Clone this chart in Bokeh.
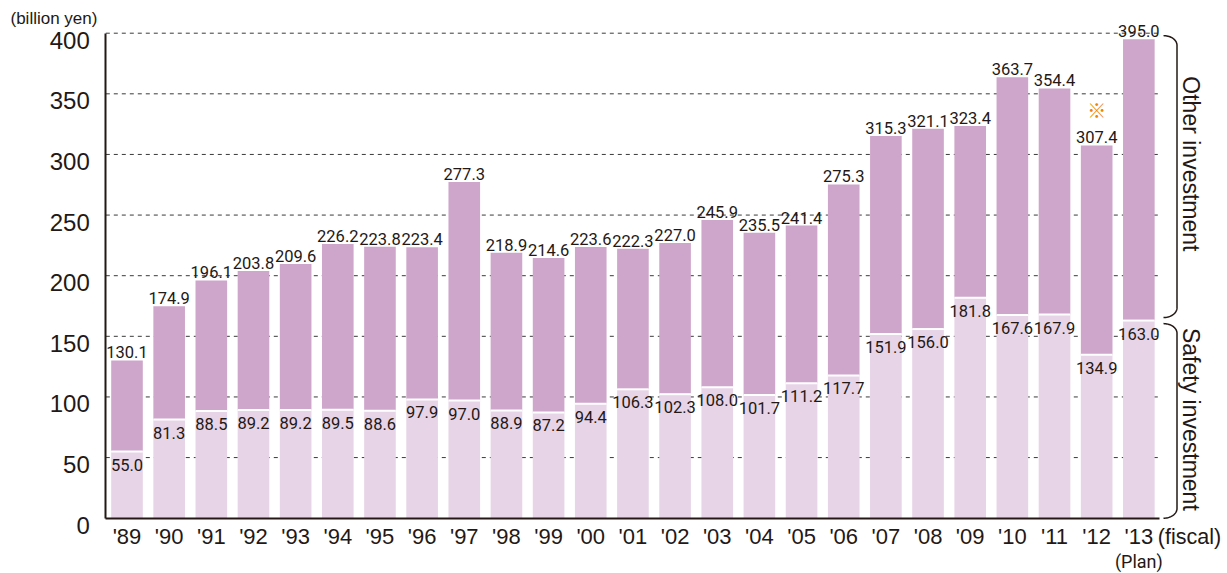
import numpy as np
from bokeh.plotting import figure
from bokeh.models import Range1d, FixedTicker, ColumnDataSource, LinearAxis
from bokeh.core.properties import value
from bokeh.embed import file_html
from bokeh.resources import INLINE

# ---- data ----
years = ["'89", "'90", "'91", "'92", "'93", "'94", "'95", "'96", "'97", "'98", "'99", "'00",
         "'01", "'02", "'03", "'04", "'05", "'06", "'07", "'08", "'09", "'10", "'11", "'12", "'13"]
totals = [130.1, 174.9, 196.1, 203.8, 209.6, 226.2, 223.8, 223.4, 277.3, 218.9, 214.6, 223.6,
          222.3, 227.0, 245.9, 235.5, 241.4, 275.3, 315.3, 321.1, 323.4, 363.7, 354.4, 307.4, 395.0]
safety = [55.0, 81.3, 88.5, 89.2, 89.2, 89.5, 88.6, 97.9, 97.0, 88.9, 87.2, 94.4,
          106.3, 102.3, 108.0, 101.7, 111.2, 117.7, 151.9, 156.0, 181.8, 167.6, 167.9, 134.9, 163.0]
y_ticks = [0, 50, 100, 150, 200, 250, 300, 350, 400]
marked_year = "'12"
plan_year = "'13"

# ---- styling / layout ----
DARK = "#CFA6CB"
LIGHT = "#E7D4E7"
INK = "#231815"
TICK_FONT = "Liberation Sans"
NUM_FONT = "Roboto"

W, H = 1227, 573
PX_X = 42.16      # pixels per category step
X0_PX = 126.5     # pixel position of first category
PX_Y = 1.2125     # pixels per unit
Y0_PX = 517.7     # pixel position of value 0
LABEL_DROP_PX = 7 # y tick labels sit slightly below their gridlines

def dx(px):
    return (px - X0_PX) / PX_X

def dy(py):
    return (Y0_PX - py) / PX_Y

n = len(years)
xs = np.arange(n)
tot = np.array(totals)
saf = np.array(safety)
bw = 0.75

axis_left = dx(105.3)
axis_right = dx(1159)

p = figure(width=W, height=H, output_backend="svg", toolbar_location=None,
           x_range=Range1d(dx(0), dx(W)), y_range=Range1d(dy(H), dy(0)),
           min_border=0, min_border_left=0, min_border_right=0,
           min_border_top=0, min_border_bottom=0)
p.outline_line_color = None
p.grid.visible = False
p.background_fill_color = "white"
p.border_fill_color = "white"
shift = LABEL_DROP_PX / PX_Y
p.extra_y_ranges = {"lbl": Range1d(dy(H) + shift, dy(0) + shift)}

# dashed gridlines (from tick values), behind bars
gy = [t for t in y_ticks if t > 0]
p.segment(x0=[axis_left] * len(gy), x1=[axis_right] * len(gy), y0=gy, y1=gy,
          line_color="#3a3a3a", line_width=1, line_dash="4 4")

src = ColumnDataSource(dict(x=xs, tot=tot, saf=saf,
                            tl=[f"{v:.1f}" for v in totals], sl=[f"{v:.1f}" for v in safety],
                            x0=xs - bw / 2, x1=xs + bw / 2))

p.vbar(x="x", width=bw, bottom=0, top="saf", source=src, fill_color=LIGHT, line_color=None)
p.vbar(x="x", width=bw, bottom="saf", top="tot", source=src, fill_color=DARK, line_color=None)
p.segment(x0="x0", x1="x1", y0="saf", y1="saf", source=src, line_color="white", line_width=2)

# value labels
p.text(x="x", y="tot", text="tl", source=src, text_align="center", text_baseline="bottom",
       y_offset=-2, text_font=value(NUM_FONT), text_font_size="16.5px", text_color=INK)
p.text(x="x", y="saf", text="sl", source=src, text_align="center", text_baseline="top",
       y_offset=7, text_font=value(NUM_FONT), text_font_size="16.5px", text_color=INK)

# note mark above '12
mi = years.index(marked_year)
p.text(x=[mi], y=[totals[mi]], text=["※"], text_align="center", text_baseline="bottom",
       y_offset=-22, text_font=value("Noto Sans CJK JP"), text_font_size="19px",
       text_color="#F08300")

# brackets on the right
bx0, bxv = dx(1163), dx(1176.5)
ry = 8.0
gap = 2.5
pi = years.index(plan_year)

def bracket(lo, hi):
    t = np.linspace(0, np.pi / 2, 20)
    top_x = bx0 + (bxv - bx0) * np.sin(t)
    top_y = hi - ry * (1 - np.cos(t))
    bot_x = (bx0 + (bxv - bx0) * np.sin(t))[::-1]
    bot_y = (lo + ry * (1 - np.cos(t)))[::-1]
    return np.concatenate([top_x, bot_x]), np.concatenate([top_y, bot_y])

bxs1, bys1 = bracket(safety[pi] + gap, y_ticks[-1] - 2)
bxs2, bys2 = bracket(0, safety[pi] - gap)
p.multi_line(xs=[list(bxs1), list(bxs2)], ys=[list(bys1), list(bys2)],
             line_color=INK, line_width=1.5)

p.text(x=[dx(1190)] * 2, y=[(safety[pi] + y_ticks[-1]) / 2, safety[pi] / 2],
       text=["Other investment", "Safety investment"], angle=-np.pi / 2,
       y_offset=[-13, 0],
       text_align="center", text_baseline="middle",
       text_font=value(TICK_FONT), text_font_size="23px", text_color=INK)

# extra texts
p.text(x=[dx(10)], y=[dy(27)], text=["(billion yen)"], text_align="left", text_baseline="bottom",
       text_font=value(TICK_FONT), text_font_size="17px", text_color=INK)
p.text(x=[dx(1189)], y=[dy(524)], text=["(fiscal)"], text_align="center", text_baseline="top",
       text_font=value(TICK_FONT), text_font_size="21.5px", text_color=INK)
p.text(x=[pi], y=[dy(550)], text=["(Plan)"], text_align="center", text_baseline="top",
       text_font=value(NUM_FONT), text_font_size="18px", text_color=INK)

# axes, fixed inside the frame
xa = p.xaxis[0]
xa.fixed_location = 0
xa.ticker = FixedTicker(ticks=list(xs))
xa.major_label_overrides = {int(i): years[i] for i in xs}
xa.bounds = (axis_left, axis_right)
xa.axis_line_color = INK
xa.axis_line_width = 2
xa.major_tick_line_color = None
xa.minor_tick_line_color = None
xa.major_tick_out = 0
xa.major_tick_in = 0
xa.major_label_standoff = 6
xa.major_label_text_font = TICK_FONT
xa.major_label_text_font_size = "22px"
xa.major_label_text_color = INK

# y axis: line from the main range
ya = p.yaxis[0]
ya.fixed_location = axis_left
ya.ticker = FixedTicker(ticks=y_ticks)
ya.bounds = (0, y_ticks[-1])
ya.axis_line_color = INK
ya.axis_line_width = 2
ya.major_tick_line_color = None
ya.minor_tick_line_color = None
ya.major_tick_out = 0
ya.major_tick_in = 0
ya.major_label_text_font_size = "0px"
ya.major_label_text_alpha = 0

# y axis tick labels, dropped slightly below their gridlines
yl = LinearAxis(y_range_name="lbl", fixed_location=axis_left,
                ticker=FixedTicker(ticks=y_ticks), bounds=(0, y_ticks[-1]),
                axis_line_color=None, major_tick_line_color=None, minor_tick_line_color=None,
                major_tick_out=0, major_tick_in=0, major_label_standoff=16,
                major_label_text_font=TICK_FONT, major_label_text_font_size="24px",
                major_label_text_color=INK)
p.add_layout(yl, "left")

open("out.html", "w").write(file_html(p, INLINE))
